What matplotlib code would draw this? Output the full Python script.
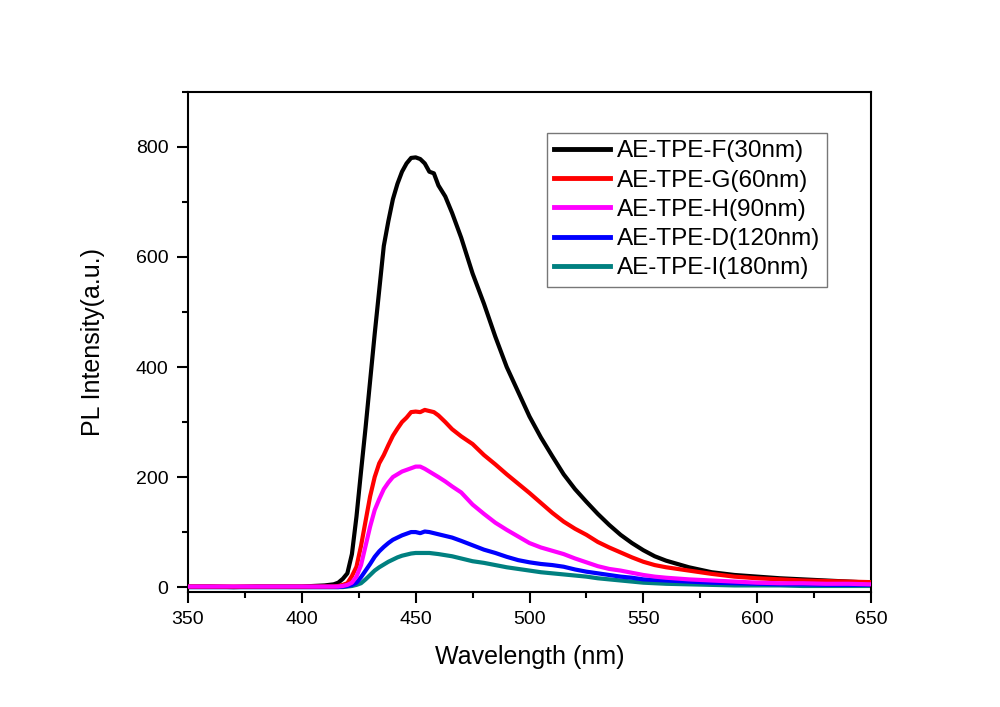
import matplotlib
matplotlib.use('Agg')
import matplotlib.pyplot as plt
from matplotlib.ticker import MultipleLocator

plt.rcParams['font.family'] = ['Liberation Sans', 'DejaVu Sans']

# wavelength grid (nm)
wl = [350, 360, 370, 380, 390, 400, 405, 410, 414,
      416, 418, 420, 422, 424, 426, 428, 430, 432, 434, 436, 438, 440,
      442, 444, 446, 448, 450, 452, 454, 456, 458, 460,
      463, 466, 470,
      475, 480, 485, 490, 495, 500, 505, 510, 515, 520, 525, 530, 535,
      540, 545, 550, 555, 560,
      570, 580, 590, 600, 610, 620, 630, 640, 650]

# PL intensity for each sample
pl_F = [1, 1, 0, 1, 1, 1, 2, 3, 5,
        8, 15, 25, 60, 128, 210, 290, 375, 460, 540, 620, 665, 705,
        733, 755, 770, 780, 781, 778, 770, 755, 752, 730,
        710, 680, 635,
        570, 515, 455, 400, 355, 310, 272, 238, 205, 178, 155, 133, 113,
        95, 80, 67, 56, 48,
        36, 27, 22, 19, 16, 14, 12, 10, 8]
pl_G = [1, 1, 1, 1, 1, 1, 1, 1, 1,
        2, 4, 7, 20, 37, 75, 120, 165, 200, 225, 240, 258, 275,
        288, 300, 308, 318, 319, 318, 322, 320, 318, 312,
        300, 287, 274,
        260, 240, 223, 205, 188, 171, 153, 135, 119, 106, 95, 82, 72,
        63, 54, 46, 40, 36,
        30, 24, 19, 16, 14, 12, 11, 10, 9]
pl_H = [1, 1, 1, 1, 1, 1, 1, 1, 1,
        1, 2, 4, 8, 19, 40, 75, 110, 140, 160, 178, 190, 200,
        205, 210, 213, 216, 219, 219, 215, 210, 205, 200,
        192, 183, 172,
        150, 133, 117, 104, 92, 80, 72, 66, 60, 52, 45, 38, 33,
        30, 26, 22, 19, 17,
        14, 12, 10, 8, 7, 7, 6, 6, 5]
pl_D = [0, 0, 0, 0, 0, 0, 0, 0, 0,
        0, 1, 2, 4, 8, 18, 30, 42, 55, 65, 73, 80, 86,
        90, 94, 97, 100, 100, 98, 101, 100, 98, 96,
        93, 90, 84,
        76, 68, 62, 55, 49, 45, 42, 40, 37, 32, 28, 25, 22,
        19, 17, 14, 13, 12,
        10, 8, 7, 6, 5, 5, 4, 4, 4]
pl_I = [0, 0, 0, 0, 0, 0, 0, 0, 0,
        0, 0, 1, 2, 4, 7, 14, 22, 30, 36, 41, 46, 50,
        54, 57, 59, 61, 62, 62, 62, 62, 61, 60,
        58, 56, 52,
        47, 44, 40, 36, 33, 30, 27, 25, 23, 21, 19, 16, 14,
        12, 10, 8, 7, 6,
        5, 4, 3, 3, 3, 2, 2, 2, 2]

labels = ['AE-TPE-F(30nm)', 'AE-TPE-G(60nm)', 'AE-TPE-H(90nm)',
          'AE-TPE-D(120nm)', 'AE-TPE-I(180nm)']
colors = ['#000000', '#ff0000', '#ff00ff', '#0000ff', '#008080']
series = [pl_F, pl_G, pl_H, pl_D, pl_I]
zorders = [3, 4, 5, 2, 1]

fig = plt.figure(figsize=(10, 7.07), dpi=100)
ax = fig.add_axes([0.188, 0.163, 0.683, 0.707])

handles = []
for y, c, lab, z in zip(series, colors, labels, zorders):
    h, = ax.plot(wl, y, color=c, lw=3.0, label=lab, zorder=z)
    handles.append(h)

ax.set_xlim(350, 650)
ax.set_ylim(-8.5, 900)
ax.xaxis.set_major_locator(MultipleLocator(50))
ax.xaxis.set_minor_locator(MultipleLocator(25))
ax.yaxis.set_major_locator(MultipleLocator(200))
ax.yaxis.set_minor_locator(MultipleLocator(100))
ax.tick_params(which='major', direction='out', length=8, width=1.5,
               labelsize=14, pad=6, top=False, right=False)
ax.tick_params(which='minor', direction='out', length=4, width=1.5,
               top=False, right=False)
for s in ax.spines.values():
    s.set_linewidth(1.5)

ax.set_xlabel('Wavelength (nm)', fontsize=18, labelpad=12)
ax.set_ylabel('PL Intensity(a.u.)', fontsize=18, labelpad=22)

leg = ax.legend(handles=handles, loc='upper right',
                bbox_to_anchor=(0.9356, 0.918), borderaxespad=0,
                fontsize=17.5, frameon=True, fancybox=False,
                handlelength=2.3, handletextpad=0.25, labelspacing=0.3,
                borderpad=0.3)
leg.get_frame().set_edgecolor('#555555')
leg.get_frame().set_linewidth(1.0)
for line in leg.get_lines():
    line.set_linewidth(3.5)

fig.savefig('out.png', dpi=100, facecolor='white')
